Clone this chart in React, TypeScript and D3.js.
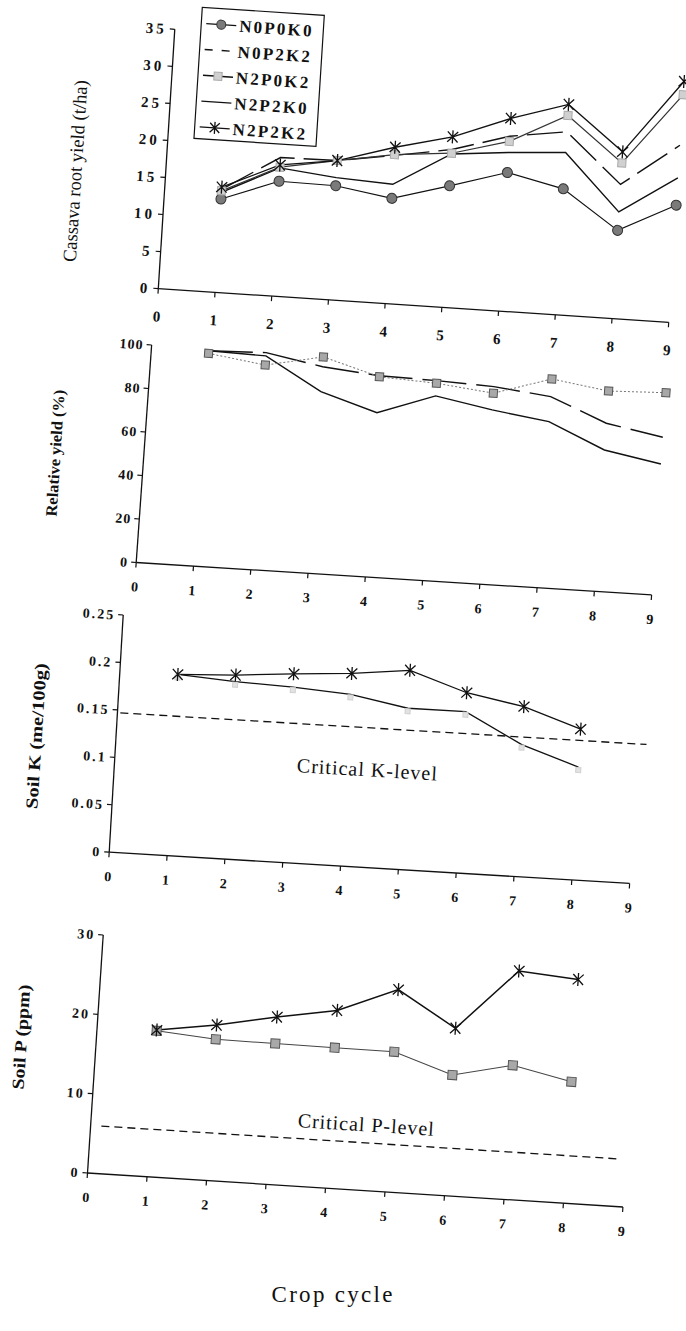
import * as d3 from 'd3'

// Four stacked panels from a scanned figure. The scan is tilted a few degrees,
// so every panel is drawn in its own straight frame and then sheared into place.
const cycles = [1, 2, 3, 4, 5, 6, 7, 8, 9]
const soilCycles = [1, 2, 3, 4, 5, 6, 7, 8]

const yieldN0P0K0 = [12.6, 15.5, 15.4, 14.2, 16.4, 18.7, 17.0, 11.9, 15.8]
const yieldN0P2K2 = [13.9, 18.7, 18.8, 20.0, 21.3, 23.6, 24.7, 18.1, 23.9]
const yieldN2P0K2 = [13.7, 17.4, 18.8, 20.1, 20.8, 22.9, 26.9, 21.0, 30.7]
const yieldN2P2K0 = [13.5, 17.3, 16.5, 16.1, 20.7, 21.4, 21.9, 14.4, 19.5]
const yieldN2P2K2 = [14.2, 17.7, 18.8, 21.1, 23.0, 26.0, 28.4, 22.5, 32.5]

const relN0P2K2 = [99.0, 99.8, 95.0, 92.5, 91.9, 90.8, 87.9, 77.3, 72.5]
const relN2P0K2 = [97.8, 94.1, 99.5, 92.0, 90.7, 87.8, 96.0, 92.1, 93.0]
const relN2P2K0 = [99.0, 98.3, 83.5, 75.5, 84.9, 80.1, 76.4, 65.0, 60.2]

const soilKN2P2K2 = [0.191, 0.194, 0.199, 0.203, 0.21, 0.19, 0.179, 0.159]
const soilKN2P2K0 = [0.191, 0.187, 0.185, 0.181, 0.17, 0.17, 0.139, 0.119]
const criticalK = [0.147, 0.147]
const criticalKSpan = [0.05, 9.15]

const soilPN2P2K2 = [18.5, 19.6, 21.1, 22.4, 25.5, 21.1, 28.8, 28.2]
const soilPN2P0K2 = [18.4, 17.8, 17.75, 17.7, 17.65, 15.2, 16.9, 15.3]
const criticalP = [6.0, 6.0]
const criticalPSpan = [0.18, 8.9]

const xTicks = [0, 1, 2, 3, 4, 5, 6, 7, 8, 9]
const yTicks1 = [0, 5, 10, 15, 20, 25, 30, 35]
const yTicks2 = [0, 20, 40, 60, 80, 100]
const yTicks3 = [0, 0.05, 0.1, 0.15, 0.2, 0.25]
const yTickLabels3 = ['0', '0.05', '0.1', '0.15', '0.2', '0.25']
const yTicks4 = [0, 10, 20, 30]

const legendNames = ['N0P0K0', 'N0P2K2', 'N2P0K2', 'N2P2K0', 'N2P2K2']

const SERIF = '"Liberation Serif", "Times New Roman", serif'
const INK = '#111'

type Geo = { ox: number; oy: number; w: number; h: number; b: number; c: number }
type Sc = d3.ScaleLinear<number, number>

function starPath(s: number) {
  const d = s * 0.8
  return `M0,${-s}V${s}M${-d},${-d}L${d},${d}M${-d},${d}L${d},${-d}`
}

function Star({ cx, cy, s = 6.5 }: { cx: number; cy: number; s?: number }) {
  return <path d={starPath(s)} transform={`translate(${cx},${cy})`} stroke={INK} strokeWidth={1.3} fill="none" />
}

function Square({ cx, cy, s, fill, stroke }: { cx: number; cy: number; s: number; fill: string; stroke: string }) {
  return <rect x={cx - s / 2} y={cy - s / 2} width={s} height={s} fill={fill} stroke={stroke} strokeWidth={1} />
}

function Panel({
  g,
  yMax,
  yTicks,
  yLabels,
  xLabelY,
  tickFont,
  tickSpacing,
  children,
}: {
  g: Geo
  yMax: number
  yTicks: number[]
  yLabels?: string[]
  xLabelY: number
  tickFont: number
  tickSpacing: number
  children: (x: Sc, y: Sc) => React.ReactNode
}) {
  const x = d3.scaleLinear().domain([0, 9]).range([0, g.w])
  const y = d3.scaleLinear().domain([0, yMax]).range([0, -g.h])
  return (
    <g transform={`matrix(1,${g.b},${g.c},1,${g.ox},${g.oy})`}>
      <line x1={0} x2={g.w} y1={0} y2={0} stroke={INK} strokeWidth={1.3} />
      <line x1={0} x2={0} y1={0} y2={-g.h} stroke={INK} strokeWidth={1.3} />
      {yTicks.map((t, i) => (
        <g key={`y${t}`}>
          <line x1={-5} x2={0} y1={y(t)} y2={y(t)} stroke={INK} strokeWidth={1.2} />
          <text
            x={-8}
            y={y(t) + tickFont * 0.35}
            textAnchor="end"
            fontFamily={SERIF}
            fontWeight="bold"
            fontSize={tickFont}
            letterSpacing={tickSpacing}
            fill={INK}
          >
            {yLabels ? yLabels[i] : String(t)}
          </text>
        </g>
      ))}
      {xTicks.map((t) => (
        <g key={`x${t}`}>
          <line x1={x(t)} x2={x(t)} y1={0} y2={5} stroke={INK} strokeWidth={1.2} />
          <text
            x={x(t)}
            y={xLabelY}
            textAnchor="middle"
            fontFamily={SERIF}
            fontWeight="bold"
            fontSize={tickFont}
            fill={INK}
          >
            {t}
          </text>
        </g>
      ))}
      {children(x, y)}
    </g>
  )
}

function seriesPath(x: Sc, y: Sc, xs: number[], vs: number[]) {
  return d3
    .line<number>()
    .x((_, i) => x(xs[i]))
    .y((v) => y(v))(vs) ?? ''
}

function Title({ text, cx, cy, len, size, bold }: { text: string; cx: number; cy: number; len: number; size: number; bold?: boolean }) {
  return (
    <text
      transform={`translate(${cx},${cy}) rotate(-86.3)`}
      textAnchor="middle"
      dy="0.35em"
      fontFamily={SERIF}
      fontSize={size}
      fontWeight={bold ? 'bold' : 'normal'}
      textLength={len}
      lengthAdjust="spacingAndGlyphs"
      fill={INK}
    >
      {text}
    </text>
  )
}

const geo1: Geo = { ox: 158.3, oy: 288.6, w: 510.4, h: 259.3, b: 0.066, c: -0.0636 }
const geo2: Geo = { ox: 136.2, oy: 562.5, w: 515.4, h: 217.5, b: 0.063, c: -0.071 }
const geo3: Geo = { ox: 109.2, oy: 852.2, w: 520.4, h: 237.2, b: 0.06, c: -0.059 }
const geo4: Geo = { ox: 87.5, oy: 1173, w: 535.4, h: 238, b: 0.0635, c: -0.066 }

function Legend() {
  const top = -283
  const rowH = 25.8
  return (
    <g>
      <rect x={26} y={top} width={122} height={131} fill="#fff" stroke={INK} strokeWidth={1.2} />
      {legendNames.map((name, i) => {
        const cy = top + 16 + i * rowH
        return (
          <g key={name}>
            {name === 'N0P2K2' ? (
              <line x1={31} x2={61} y1={cy} y2={cy} stroke={INK} strokeWidth={1.4} strokeDasharray="8,9" />
            ) : (
              <line x1={31} x2={61} y1={cy} y2={cy} stroke={INK} strokeWidth={1.3} />
            )}
            {name === 'N0P0K0' && <circle cx={46} cy={cy} r={4.5} fill="#7a7a7a" stroke="#333" />}
            {name === 'N2P0K2' && <Square cx={46} cy={cy} s={8} fill="#d0d0d0" stroke="#aaa" />}
            {name === 'N2P2K2' && <Star cx={46} cy={cy} s={6} />}
            <text
              x={64}
              y={cy + 6}
              fontFamily={SERIF}
              fontWeight="bold"
              fontSize={17}
              letterSpacing={2.2}
              fill={INK}
            >
              {name}
            </text>
          </g>
        )
      })}
    </g>
  )
}

export default function App() {
  return (
    <svg
      width={686}
      height={1331}
      viewBox="0 0 686 1331"
      style={{ position: 'absolute', left: 0, top: 0, background: '#fff' }}
    >
      <rect width={686} height={1331} fill="#fff" />

      <Title text="Cassava root yield (t/ha)" cx={75} cy={171} len={182} size={19} />
      <Title text="Relative yield (%)" cx={55} cy={453} len={127} size={16} bold />
      <Title text="Soil K (me/100g)" cx={36} cy={736} len={146} size={17} bold />
      <Title text="Soil P (ppm)" cx={21} cy={1037} len={105} size={17} bold />

      <Panel g={geo1} yMax={35} yTicks={yTicks1} xLabelY={33} tickFont={15} tickSpacing={3}>
        {(x, y) => (
          <g>
            <path d={seriesPath(x, y, cycles, yieldN0P0K0)} fill="none" stroke={INK} strokeWidth={1.2} />
            <path d={seriesPath(x, y, cycles, yieldN2P2K0)} fill="none" stroke={INK} strokeWidth={1.4} />
            <path d={seriesPath(x, y, cycles, yieldN0P2K2)} fill="none" stroke={INK} strokeWidth={1.4} strokeDasharray="36,9" />
            <path d={seriesPath(x, y, cycles, yieldN2P0K2)} fill="none" stroke="#333" strokeWidth={1.2} />
            <path d={seriesPath(x, y, cycles, yieldN2P2K2)} fill="none" stroke={INK} strokeWidth={1.3} />
            {yieldN0P0K0.map((v, i) => (
              <circle key={`c${i}`} cx={x(cycles[i])} cy={y(v)} r={5} fill="#7a7a7a" stroke="#333" />
            ))}
            {yieldN2P0K2.map((v, i) => (
              <Square key={`s${i}`} cx={x(cycles[i])} cy={y(v)} s={8} fill="#d0d0d0" stroke="#a8a8a8" />
            ))}
            {yieldN2P2K2.map((v, i) => (
              <Star key={`a${i}`} cx={x(cycles[i])} cy={y(v)} />
            ))}
            <Legend />
          </g>
        )}
      </Panel>

      <Panel g={geo2} yMax={100} yTicks={yTicks2} xLabelY={29} tickFont={14} tickSpacing={1}>
        {(x, y) => (
          <g>
            <path d={seriesPath(x, y, cycles, relN2P2K0)} fill="none" stroke={INK} strokeWidth={1.4} />
            <path d={seriesPath(x, y, cycles, relN0P2K2)} fill="none" stroke={INK} strokeWidth={1.4} strokeDasharray="44,10" />
            <path d={seriesPath(x, y, cycles, relN2P0K2)} fill="none" stroke="#777" strokeWidth={1} strokeDasharray="2,2" />
            {relN2P0K2.map((v, i) => (
              <Square key={`s${i}`} cx={x(cycles[i])} cy={y(v)} s={8} fill="#a8a8a8" stroke="#555" />
            ))}
          </g>
        )}
      </Panel>

      <Panel g={geo3} yMax={0.25} yTicks={yTicks3} yLabels={yTickLabels3} xLabelY={29} tickFont={14} tickSpacing={2}>
        {(x, y) => (
          <g>
            <path d={seriesPath(x, y, criticalKSpan, criticalK)} fill="none" stroke={INK} strokeWidth={1.3} strokeDasharray="8,5" />
            <path d={seriesPath(x, y, soilCycles, soilKN2P2K0)} fill="none" stroke={INK} strokeWidth={1.3} />
            <path d={seriesPath(x, y, soilCycles, soilKN2P2K2)} fill="none" stroke={INK} strokeWidth={1.3} />
            {soilKN2P2K0.map((v, i) => (
              <Square key={`s${i}`} cx={x(soilCycles[i])} cy={y(v) + 3} s={5} fill="#e2e2e2" stroke="#d0d0d0" />
            ))}
            {soilKN2P2K2.map((v, i) => (
              <Star key={`a${i}`} cx={x(soilCycles[i])} cy={y(v)} />
            ))}
            <text x={252} y={-91} textAnchor="middle" fontFamily={SERIF} fontSize={20} textLength={140} fill={INK}>
              Critical K-level
            </text>
          </g>
        )}
      </Panel>

      <Panel g={geo4} yMax={30} yTicks={yTicks4} xLabelY={29} tickFont={14} tickSpacing={2}>
        {(x, y) => (
          <g>
            <path d={seriesPath(x, y, criticalPSpan, criticalP)} fill="none" stroke={INK} strokeWidth={1.3} strokeDasharray="8,5" />
            <path d={seriesPath(x, y, soilCycles, soilPN2P0K2)} fill="none" stroke="#444" strokeWidth={1} />
            <path d={seriesPath(x, y, soilCycles, soilPN2P2K2)} fill="none" stroke={INK} strokeWidth={1.5} />
            {soilPN2P0K2.map((v, i) => (
              <Square key={`s${i}`} cx={x(soilCycles[i])} cy={y(v)} s={9} fill="#a8a8a8" stroke="#555" />
            ))}
            {soilPN2P2K2.map((v, i) => (
              <Star key={`a${i}`} cx={x(soilCycles[i])} cy={y(v)} />
            ))}
            <text x={274} y={-59} textAnchor="middle" fontFamily={SERIF} fontSize={20} textLength={136} fill={INK}>
              Critical P-level
            </text>
          </g>
        )}
      </Panel>

      <text x={332} y={1302} textAnchor="middle" fontFamily={SERIF} fontSize={23} textLength={121} fill={INK}>
        Crop cycle
      </text>
    </svg>
  )
}
